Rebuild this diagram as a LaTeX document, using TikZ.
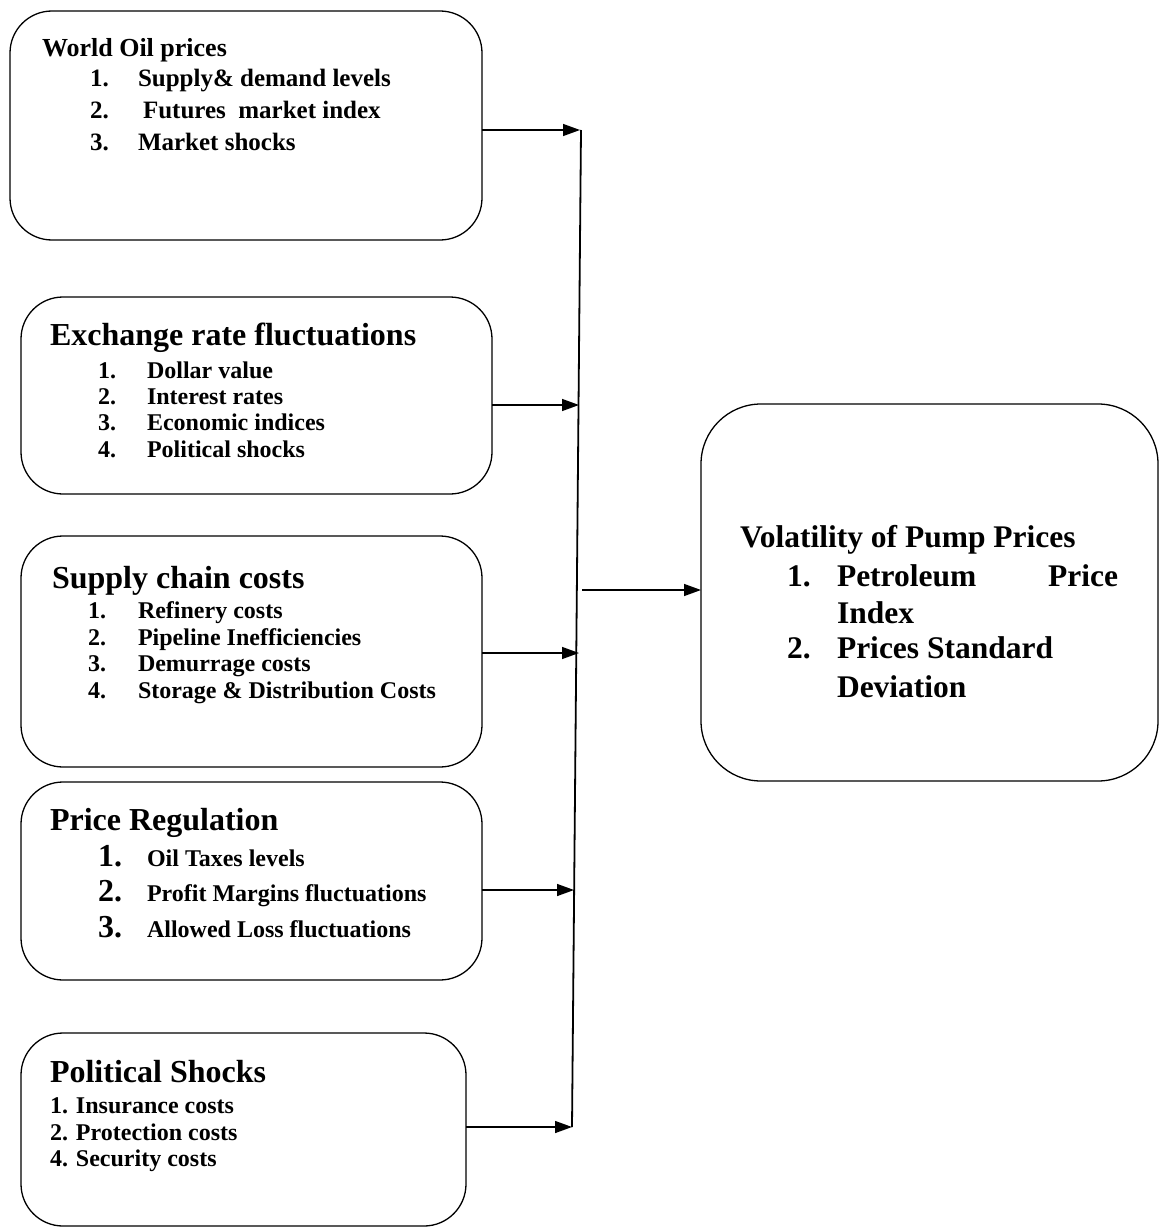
\documentclass[tikz,border=0pt]{standalone}
\usepackage{fontspec}
\setmainfont{Liberation Serif}
\usetikzlibrary{arrows.meta}
\newcommand{\myfs}[1]{\fontsize{#1}{#1}\selectfont}
\begin{document}
\begin{tikzpicture}[x=1pt,y=-1pt,
  box/.style={draw, line width=1.3pt, rounded corners=42pt, inner sep=0pt, outer sep=0pt, anchor=north west},
  lbl/.style={inner sep=0pt, outer sep=0pt, anchor=base west, font=\bfseries},
  arr/.style={line width=1.4pt, -{Triangle[length=17pt,width=12pt]}},
  trunk/.style={line width=1.8pt}]
\useasboundingbox (0,0) rectangle (1162,1228);
\fill[white] (0,0) rectangle (1162,1228);

% boxes
\node[box, minimum width=472pt, minimum height=229pt] (b1) at (10,11) {};
\node[box, minimum width=471pt, minimum height=197pt] (b2) at (21,297) {};
\node[box, minimum width=461pt, minimum height=231pt] (b3) at (21,536) {};
\node[box, minimum width=461pt, minimum height=198pt] (b4) at (21,782) {};
\node[box, minimum width=445pt, minimum height=193pt] (b5) at (21,1033) {};
\node[box, rounded corners=60pt, minimum width=457pt, minimum height=377pt] (b6) at (701,404) {};

% box 1
\node[lbl, font=\bfseries\myfs{26}] (t1) at (42,56.5) {World Oil prices};
\node[lbl, font=\bfseries\myfs{25}] (t1n1) at (90,87) {1.};
\node[lbl, font=\bfseries\myfs{25}] (t1i1) at (138,87) {Supply\& demand levels};
\node[lbl, font=\bfseries\myfs{25}] (t1n2) at (90,119) {2.};
\node[lbl, font=\bfseries\myfs{25}] (t1i2) at (143,119) {Futures\ \ market index};
\node[lbl, font=\bfseries\myfs{25}] (t1n3) at (90,150) {3.};
\node[lbl, font=\bfseries\myfs{25}] (t1i3) at (138,150) {Market shocks};

% box 2
\node[lbl, font=\bfseries\myfs{32}] (t2) at (50,345.5) {Exchange rate fluctuations};
\node[lbl, font=\bfseries\myfs{24}] (t2n1) at (98,378) {1.};
\node[lbl, font=\bfseries\myfs{24}] (t2i1) at (147,378) {Dollar value};
\node[lbl, font=\bfseries\myfs{24}] (t2n2) at (98,404) {2.};
\node[lbl, font=\bfseries\myfs{24}] (t2i2) at (147,404) {Interest rates};
\node[lbl, font=\bfseries\myfs{24}] (t2n3) at (98,430) {3.};
\node[lbl, font=\bfseries\myfs{24}] (t2i3) at (147,430) {Economic indices};
\node[lbl, font=\bfseries\myfs{24}] (t2n4) at (98,457) {4.};
\node[lbl, font=\bfseries\myfs{24}] (t2i4) at (147,457) {Political shocks};

% box 3
\node[lbl, font=\bfseries\myfs{32}] (t3) at (52,588) {Supply chain costs};
\node[lbl, font=\bfseries\myfs{24}] (t3n1) at (88,618) {1.};
\node[lbl, font=\bfseries\myfs{24}] (t3i1) at (138,618) {Refinery costs};
\node[lbl, font=\bfseries\myfs{24}] (t3n2) at (88,645) {2.};
\node[lbl, font=\bfseries\myfs{24}] (t3i2) at (138,645) {Pipeline Inefficiencies};
\node[lbl, font=\bfseries\myfs{24}] (t3n3) at (88,671) {3.};
\node[lbl, font=\bfseries\myfs{24}] (t3i3) at (138,671) {Demurrage costs};
\node[lbl, font=\bfseries\myfs{24}] (t3n4) at (88,698) {4.};
\node[lbl, font=\bfseries\myfs{24}] (t3i4) at (138,698) {Storage \& Distribution Costs};

% box 4
\node[lbl, font=\bfseries\myfs{32}] (t4) at (50,830.5) {Price Regulation};
\node[lbl, font=\bfseries\myfs{32}] (t4n1) at (98,866) {1.};
\node[lbl, font=\bfseries\myfs{24}] (t4i1) at (147,866) {Oil Taxes levels};
\node[lbl, font=\bfseries\myfs{32}] (t4n2) at (98,901) {2.};
\node[lbl, font=\bfseries\myfs{24}] (t4i2) at (147,901) {Profit Margins fluctuations};
\node[lbl, font=\bfseries\myfs{32}] (t4n3) at (98,937) {3.};
\node[lbl, font=\bfseries\myfs{24}] (t4i3) at (147,937) {Allowed Loss fluctuations};

% box 5
\node[lbl, font=\bfseries\myfs{32}] (t5) at (50,1082.5) {Political Shocks};
\node[lbl, font=\bfseries\myfs{24}] (t5i1) at (50,1113) {1. Insurance costs};
\node[lbl, font=\bfseries\myfs{24}] (t5i2) at (50,1140) {2. Protection costs};
\node[lbl, font=\bfseries\myfs{24}] (t5i3) at (50,1166) {4. Security costs};

% box 6
\node[lbl, font=\bfseries\myfs{31.5}] (t6) at (740,547.4) {Volatility of Pump Prices};
\node[lbl, font=\bfseries\myfs{31.5}] (t6n1) at (787,586.4) {1.};
\node[lbl, font=\bfseries\myfs{31.5}] (t6i1a) at (837,586.4) {Petroleum};
\node[lbl, font=\bfseries\myfs{31.5}, anchor=base east] (t6i1b) at (1118,586.4) {Price};
\node[lbl, font=\bfseries\myfs{31.5}] (t6i1c) at (837,623.4) {Index};
\node[lbl, font=\bfseries\myfs{31.5}] (t6n2) at (787,658.4) {2.};
\node[lbl, font=\bfseries\myfs{31.5}] (t6i2a) at (837,658.4) {Prices Standard};
\node[lbl, font=\bfseries\myfs{31.5}] (t6i2b) at (837,697.4) {Deviation};

% connectors
\coordinate (ttop) at (581,130);
\coordinate (tbot) at (572,1127);
\draw[trunk] (ttop) -- (tbot);
\coordinate (a1) at (580,130);
\coordinate (a2) at (579,405);
\coordinate (a3) at (579,653);
\coordinate (a4) at (574,890);
\coordinate (a5) at (572,1127);
\draw[arr] (b1.east |- a1) -- (a1);
\draw[arr] (b2.east |- a2) -- (a2);
\draw[arr] (b3.east |- a3) -- (a3);
\draw[arr] (b4.east |- a4) -- (a4);
\draw[arr] (b5.east |- a5) -- (a5);
\coordinate (o1) at (582,590);
\draw[arr] (o1) -- (b6.west |- o1);
\end{tikzpicture}
\end{document}
